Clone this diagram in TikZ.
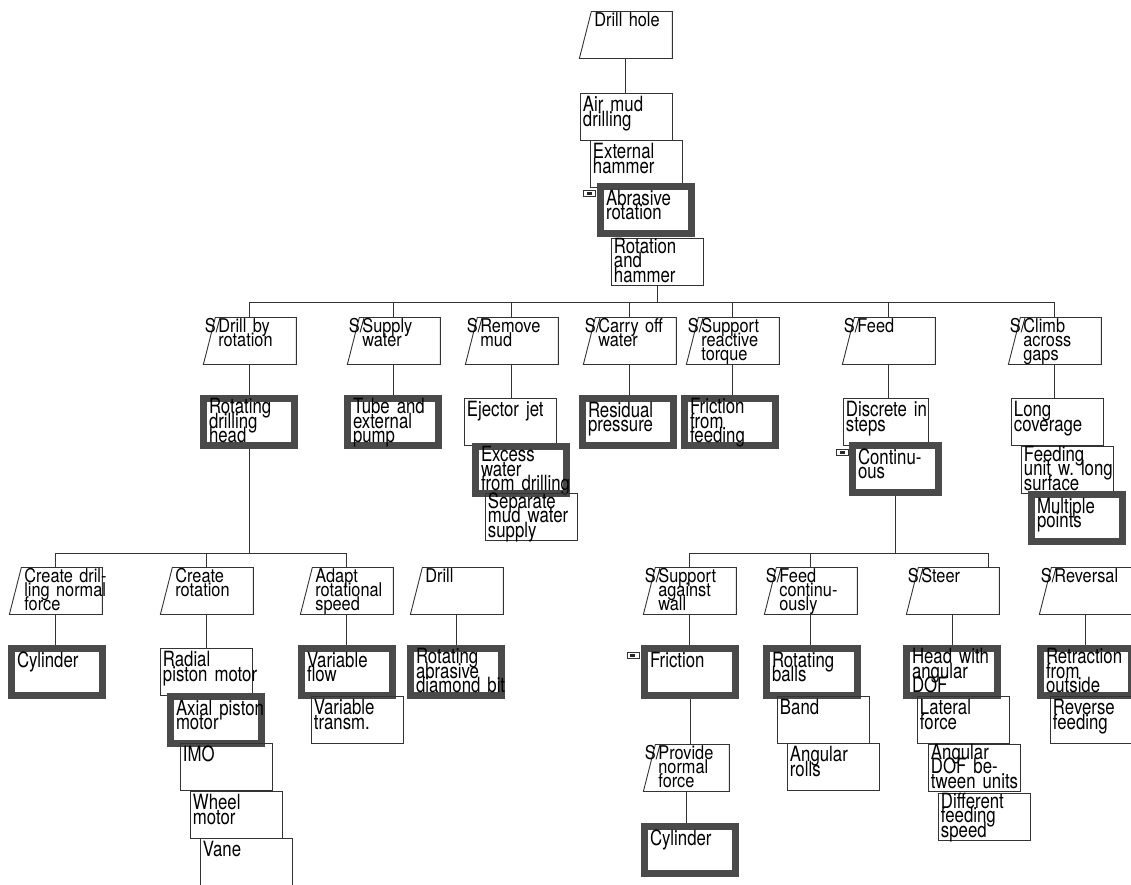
\documentclass[tikz,border=0pt]{standalone}
\usepackage{fontspec}
\setmainfont{TeX Gyre Heros}[FakeStretch=0.8]
\newfontfamily\funcfont{TeX Gyre Heros}[FakeStretch=0.86]
\usepackage{tikz}
\usetikzlibrary{shapes.geometric}
\newcommand{\sfn}{\llap{S/\kern-2pt}}
\tikzset{
    block_alt/.style={rectangle, draw=black!80, line width=0.9pt, anchor=north west, text width=87pt, inner xsep=2.5pt, inner ysep=3.5pt, text height=15pt, text depth=25pt, align=left, font={\fontsize{21}{14.5}\selectfont\lineskiplimit=-100pt\hyphenpenalty=10000\exhyphenpenalty=10000}},
    block_sel/.style={block_alt, draw=black!71, line width=7pt, text width=80pt, inner xsep=5.5pt},
    block_func/.style={trapezium, trapezium left angle=75.7, trapezium right angle=90, draw=black!80, line width=0.9pt, anchor=top left corner, text width=75pt, inner xsep=3pt, inner ysep=2pt, text height=13.5pt, text depth=29.5pt, align=left, font={\funcfont\fontsize{19}{14}\selectfont\lineskiplimit=-100pt\hyphenpenalty=10000\exhyphenpenalty=10000}},
    three/.style={text height=11.5pt, text depth=28.5pt},
    link/.style={draw=black!80, line width=0.9pt},
    sel_icon/.pic={
        \draw[black!80, line width=0.7pt] (-6,-3) rectangle (6,3);
        \fill[black!85] (-3,-1.5) rectangle (2,1.5);
    }
}

\begin{document}
\begin{tikzpicture}[x=1pt, y=-1pt]
    \useasboundingbox (0,0) rectangle (1131,884);

    % Top function and its solutions
    \node[block_func] (root) at (591,11) {Drill~hole};
    \node[block_alt] (a1) at (580,93) {Air~mud\\drilling};
    \node[block_alt] (a2) at (590,140) {External\\hammer};
    \node[block_sel] (a3) at (597,183) {Abrasive\\rotation};
    \node[block_alt, three] (a4) at (611,238) {Rotation\\and\\hammer};

    % Sub-functions
    \node[block_func] (f1) at (215,317) {\sfn Drill~by\\rotation};
    \node[block_func] (f2) at (359,317) {\sfn Supply\\water};
    \node[block_func] (f3) at (477,317) {\sfn Remove\\mud};
    \node[block_func] (f4) at (595,317) {\sfn Carry~off\\water};
    \node[block_func] (f5) at (698,317) {\sfn Support\\reactive\\torque};
    \node[block_func] (f6) at (854,317) {\sfn Feed};
    \node[block_func] (f7) at (1020,317) {\sfn Climb\\across\\gaps};

    % Solutions of the sub-functions
    \node[block_sel, three] (s1) at (200,395) {Rotating\\drilling\\head};
    \node[block_sel, three] (s2) at (344,395) {Tube~and\\external\\pump};
    \node[block_alt] (s3) at (464,398) {Ejector~jet};
    \node[block_sel, three] (s4) at (472,443) {Excess\\water\\from~drilling};
    \node[block_alt, three] (s5) at (485,493) {Separate\\mud~water\\supply};
    \node[block_sel] (s6) at (579,395) {Residual\\pressure};
    \node[block_sel, three] (s7) at (681,395) {Friction\\from\\feeding};
    \node[block_alt, text width=80pt] (s8) at (843,398) {Discrete~in\\steps};
    \node[block_sel, text width=75pt] (s9) at (849,442) {Continu-\\ous};
    \node[block_alt] (s10) at (1011,398) {Long\\coverage};
    \node[block_alt, three] (s11) at (1021,446) {Feeding\\unit~w.~long\\surface};
    \node[block_sel] (s12) at (1028,491) {Multiple\\points};

    % Drilling head branch
    \node[block_func] (g1) at (21,567) {Create~dril-\\ling~normal\\force};
    \node[block_func] (g2) at (172,567) {Create\\rotation};
    \node[block_func] (g3) at (312,567) {Adapt\\rotational\\speed};
    \node[block_func] (g4) at (422,567) {Drill};

    \node[block_sel] (t1) at (8,645) {Cylinder};
    \node[block_alt] (t2) at (160,648) {Radial\\piston~motor};
    \node[block_sel] (t3) at (167,693) {Axial~piston\\motor};
    \node[block_alt] (t4) at (180,743) {IMO};
    \node[block_alt] (t5) at (190,791) {Wheel\\motor};
    \node[block_alt] (t6) at (200,838) {Vane};
    \node[block_sel] (t7) at (298,645) {Variable\\flow};
    \node[block_alt] (t8) at (311,696) {Variable\\transm.};
    \node[block_sel, three] (t9) at (407,645) {Rotating\\abrasive\\diamond~bit};

    % Continuous feed branch
    \node[block_func] (h1) at (655,567) {\sfn Support\\against\\wall};
    \node[block_func] (h2) at (776,567) {\sfn Feed\\continu-\\ously};
    \node[block_func] (h3) at (918,567) {\sfn Steer};
    \node[block_func] (h4) at (1051,567) {\sfn Reversal};

    \node[block_sel] (u1) at (641,645) {Friction};
    \node[block_func, text width=68pt] (h5) at (655,744) {\sfn Provide\\normal\\force};
    \node[block_sel] (u2) at (641,823) {Cylinder};
    \node[block_sel] (u3) at (763,645) {Rotating\\balls};
    \node[block_alt] (u4) at (777,696) {Band};
    \node[block_alt] (u5) at (787,743) {Angular\\rolls};
    \node[block_sel, three] (u6) at (903,645) {Head~with\\angular\\DOF};
    \node[block_alt] (u7) at (917,696) {Lateral\\force};
    \node[block_alt, three] (u8) at (928,744) {Angular\\DOF~be-\\tween~units};
    \node[block_alt, three] (u9) at (938,793) {Different\\feeding\\speed};
    \node[block_sel, three] (u10) at (1037,645) {Retraction\\from\\outside};
    \node[block_alt] (u11) at (1050,696) {Reverse\\feeding};

    % Chosen-solution markers
    \pic at ([xshift=-7.5pt, yshift=-10pt]a3.north west) {sel_icon};
    \pic at ([xshift=-6.5pt, yshift=-10.5pt]s9.north west) {sel_icon};
    \pic at ([xshift=-8pt, yshift=-10pt]u1.north west) {sel_icon};

    % Connectors
    \coordinate (bus1) at (0,302);
    \coordinate (bus2) at (0,553);
    \coordinate (steer_in) at ([xshift=-11pt]h3.top right corner);

    \draw[link] (root.bottom side) -- (root.bottom side |- a1.north);
    \foreach \c in {f1,f2,f3,f4,f5,f6,f7}
        \draw[link] (a4.south) |- (\c.bottom side |- bus1) -- (\c.bottom side |- \c.north);
    \foreach \a/\b in {f1/s1,f2/s2,f3/s3,f4/s6,f5/s7,f6/s8,f7/s10,g1/t1,g2/t2,g3/t7,g4/t9,h1/u1,h2/u3,h3/u6,h4/u10,h5/u2}
        \draw[link] (\a.bottom side) -- (\a.bottom side |- \b.north);
    \foreach \c in {g1,g2,g3}
        \draw[link] (s1.south) |- (\c.bottom side |- bus2) -- (\c.bottom side |- \c.north);
    \foreach \c in {h1,h2}
        \draw[link] (s9.south) |- (\c.bottom side |- bus2) -- (\c.bottom side |- \c.north);
    \draw[link] (s9.south) |- (steer_in |- bus2) -- (steer_in);
    \draw[link] (u1.south) -- (u1.south |- h5.north);
\end{tikzpicture}
\end{document}
